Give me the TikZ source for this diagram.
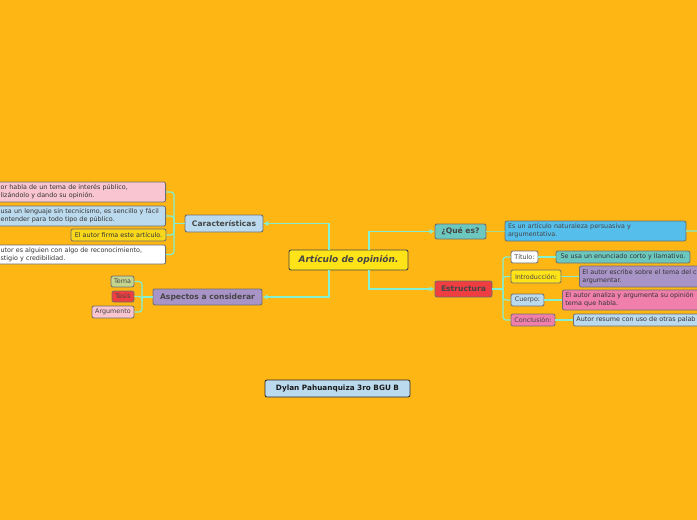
\documentclass[tikz,border=0pt]{standalone}
\usepackage{fontspec}
\setmainfont{DejaVu Sans}
\usetikzlibrary{arrows.meta}
\definecolor{bg}{HTML}{FDB614}
\definecolor{mint}{HTML}{84F0D2}
\definecolor{lgreen}{HTML}{A9D98C}
\definecolor{cyellow}{HTML}{FFE319}
\definecolor{lblue}{HTML}{BCDAEE}
\definecolor{cpurple}{HTML}{A994C7}
\definecolor{cteal}{HTML}{6CC8BE}
\definecolor{cred}{HTML}{EE3E42}
\definecolor{cblue}{HTML}{55BEEA}
\definecolor{cpinkl}{HTML}{F8C5D0}
\definecolor{cpink}{HTML}{F07FAB}
\definecolor{cgreen}{HTML}{C5D58D}
\definecolor{cyel2}{HTML}{F9D71C}
\definecolor{bd}{HTML}{6E6E6E}
\definecolor{dtxt}{HTML}{454545}
\definecolor{stxt}{HTML}{333333}
\begin{document}
\begin{tikzpicture}[x=1pt,y=-1pt,
  mbox/.style={rectangle, rounded corners=2pt, line width=0.8pt, draw=bd, inner sep=0pt, text=stxt, font=\fontsize{6.4}{8}\selectfont},
  bignode/.style={mbox, line width=0.9pt, text=dtxt, font=\bfseries\fontsize{7.6}{9}\selectfont},
  link/.style={draw=mint, line width=1.2pt},
  arr/.style={link, -{Latex[length=5pt,width=5.5pt]}},
  glink/.style={draw=lgreen, line width=1.2pt}]
\fill[bg] (0,0) rectangle (697,520);
\useasboundingbox (0,0) rectangle (697,520);
\clip (0,0) rectangle (697,520);

% main nodes
\node[bignode, fill=cyellow, draw=dtxt, font=\bfseries\itshape\fontsize{9}{11}\selectfont, minimum width=119pt, minimum height=20pt] (art) at (348.5,260) {Artículo de opinión.};
\node[bignode, fill=lblue, minimum width=78pt, minimum height=17pt] (car) at (224,223.5) {Características};
\node[bignode, fill=cpurple, minimum width=109pt, minimum height=16pt] (asp) at (207.5,297) {Aspectos a considerar};
\node[bignode, fill=cteal, minimum width=51pt, minimum height=15pt] (que) at (460.5,231.5) {¿Qué es?};
\node[bignode, fill=cred, minimum width=57pt, minimum height=16pt] (est) at (463.5,289) {Estructura};

% central connectors
\coordinate (jl) at (329,260);
\coordinate (jr) at (369,260);
\draw[arr] (jl |- art.north) |- (car.east);
\draw[arr] (jl |- art.south) |- (asp.east);
\draw[arr] (jr |- art.north) |- (que.west);
\draw[arr] (jr |- art.south) |- (est.west);

% Caracteristicas children
\node[mbox, fill=cpinkl, anchor=east, text width=162pt, align=left, inner xsep=3pt, minimum height=20pt] (c1) at (166,192) {or habla de un tema de interés público,\\lizándolo y dando su opinión.};
\node[mbox, fill=lblue, anchor=east, text width=162pt, align=left, inner xsep=3pt, minimum height=20pt] (c2) at (166,216) {usa un lenguaje sin tecnicismo, es sencillo y fácil\\entender para todo tipo de público.};
\node[mbox, fill=cyel2, minimum width=95pt, minimum height=12pt] (c3) at (118.5,235) {El autor firma este artículo.};
\node[mbox, fill=white, anchor=east, text width=162pt, align=left, inner xsep=3pt, minimum height=19pt] (c4) at (166,254.5) {utor es alguien con algo de reconocimiento,\\stigio y credibilidad.};
\coordinate (bc) at (174,223.5);
\draw[link] (car.west) -- (bc);
\foreach \n in {c1,c2,c3,c4} \draw[link, rounded corners=3pt] (bc) |- (\n.east);

% Aspectos children
\node[mbox, fill=cgreen, minimum width=23pt, minimum height=11pt, text=dtxt] (t1) at (122.5,281.5) {Tema};
\node[mbox, fill=cred, minimum width=22pt, minimum height=11pt, text=dtxt] (t2) at (123,296.5) {Tesis};
\node[mbox, fill=cpinkl, minimum width=42pt, minimum height=12pt, text=dtxt] (t3) at (113,312) {Argumento};
\coordinate (ba) at (142,297);
\draw[link] (asp.west) -- (ba);
\foreach \n in {t1,t2,t3} \draw[link, rounded corners=3pt] (ba) |- (\n.east);

% Que es child
\node[mbox, fill=cblue, text width=175pt, align=left, inner xsep=3pt, minimum height=20pt, text=dtxt] (quec) at (595.5,231) {Es un artículo naturaleza persuasiva y\\argumentativa.};
\coordinate (qe) at (705,231);
\draw[glink] (que.east) -- (que.east -| quec.west);
\draw[glink] (quec.east) -- (qe);

% Estructura children
\node[mbox, fill=white, minimum width=27pt, minimum height=12pt, text=dtxt] (e1) at (524.5,257) {Título:};
\node[mbox, fill=cyellow, minimum width=50pt, minimum height=13pt, text=dtxt] (e2) at (536,276.5) {Introducción:};
\node[mbox, fill=lblue, minimum width=33pt, minimum height=12pt, text=dtxt] (e3) at (527.5,300) {Cuerpo:};
\node[mbox, fill=cpink, minimum width=44pt, minimum height=12pt, text=dtxt] (e4) at (533,320) {Conclusión:};
\coordinate (be) at (503,289);
\draw[link] (est.east) -- (be);
\foreach \n in {e1,e2,e3,e4} \draw[link, rounded corners=3pt] (be) |- (\n.west);

\node[mbox, fill=cteal, minimum width=134pt, minimum height=12pt] (e1c) at (623,257) {Se usa un enunciado corto y llamativo.};
\node[mbox, fill=cpurple, anchor=west, text width=150pt, align=left, inner xsep=3pt, minimum height=21pt] (e2c) at (579,276.5) {El autor escribe sobre el tema del c\\argumentar.};
\node[mbox, fill=cpink, anchor=west, text width=150pt, align=left, inner xsep=3pt, minimum height=20pt] (e3c) at (562,300) {El autor analiza y argumenta su opinión\\tema que habla.};
\node[mbox, fill=lblue, anchor=west, text width=150pt, align=left, inner xsep=3pt, minimum height=12pt] (e4c) at (573,320) {Autor resume con uso de otras palab};
\foreach \n in {e1,e2,e3,e4} \draw[link] (\n.east) -- (\n.east -| \n c.west);

% credit
\node[mbox, fill=lblue, draw=black!85, text=black!90, font=\bfseries\fontsize{7.3}{9}\selectfont, minimum width=145pt, minimum height=17pt] (cred) at (337.5,388.5) {Dylan Pahuanquiza 3ro BGU B};
\end{tikzpicture}
\end{document}
